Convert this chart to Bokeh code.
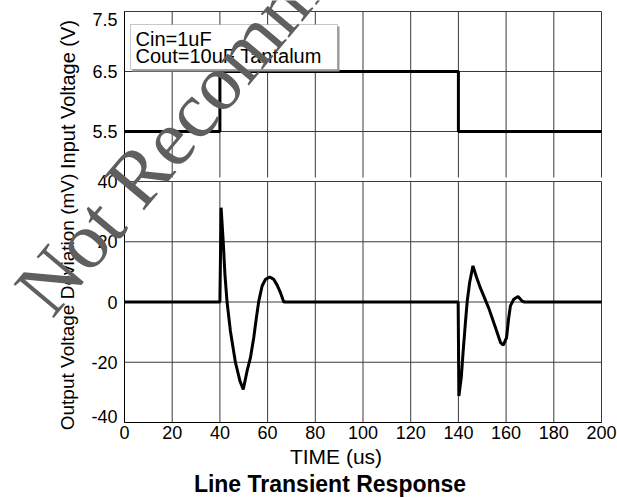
from bokeh.plotting import figure
from bokeh.models import Range1d, FixedTicker, LinearAxis, Label, BoxAnnotation
from bokeh.embed import file_html
from bokeh.resources import INLINE

# ---------------- data ----------------
x_ticks = [0, 20, 40, 60, 80, 100, 120, 140, 160, 180, 200]
x_tick_labels = ["0", "20", "40", "60", "80", "100", "120", "140", "160", "180", "200"]
vin_ticks = [5.5, 6.5, 7.5]
vin_tick_labels = ["5.5", "6.5", "7.5"]
vout_ticks = [-40, -20, 0, 20, 40]
vout_tick_labels = ["-40", "-20", "0", "20", "40"]

# input voltage step (V)
vin_t = [0, 40, 40, 140, 140, 200]
vin_v = [5.5, 5.5, 6.5, 6.5, 5.5, 5.5]

# output voltage deviation (mV)
vout_t = [0, 40, 40.5, 41.4, 42.1, 43.0, 44.4, 46.5, 48.4, 49.8, 51.4, 52.8, 54.2, 55.3,
          56.3, 57.7, 59.1, 60.9, 62.6, 64.0, 65.4, 66.8,
          139.9, 140.2, 141.2, 142.0, 143.0, 143.7, 144.7, 146.1, 147.6, 149.3, 152.8,
          155.6, 157.7, 158.8, 160.2, 161.1, 161.8, 163.2, 165.0, 166.7, 167.7, 200]
vout_v = [0, 0, 31.3, 20.0, 9.2, 0.0, -9.6, -20.0, -26.2, -29.0, -22.9, -18.5, -11.8, -5.2,
          0.3, 5.3, 7.5, 8.3, 7.5, 5.6, 3.1, 0.0,
          0.0, -31.2, -25.1, -16.3, -6.3, 0.3, 6.4, 12.0, 8.2, 4.5, -2.2,
          -8.6, -13.5, -14.3, -11.8, -5.2, -1.3, 0.9, 1.8, 0.3, 0.0, 0.0]

note_lines = ["Cin=1uF", "Cout=10uF Tantalum"]
x_title = "TIME (us)"
chart_title = "Line Transient Response"
watermark = "Not Recommended"

# ---------------- geometry (page pixels) ----------------
PAGE_W, PAGE_H = 617, 498
FRAME_L, FRAME_R = 124, 601
TOP_T, TOP_B = 11, 177          # input-voltage panel
BOT_T, BOT_B = 181, 422         # output-deviation panel

px_per_t = (FRAME_R - FRAME_L) / 200.0
px_per_v = 60.0
px_per_mv = (BOT_B - BOT_T) / 80.0

FONT = "Liberation Sans"
GRID = "#3a3a3a"


def t_of(px):
    return (px - FRAME_L) / px_per_t


def vin_of(py):
    return 7.5 - (py - TOP_T) / px_per_v


def mv_of(py):
    return 40 - (py - BOT_T) / px_per_mv


vin_lo = vin_of(TOP_B)

p = figure(width=PAGE_W, height=PAGE_H, output_backend="svg", toolbar_location=None,
           tools="", x_range=Range1d(t_of(0), t_of(PAGE_W)),
           y_range=Range1d(mv_of(PAGE_H), mv_of(0)),
           min_border=0, min_border_left=0, min_border_right=0,
           min_border_top=0, min_border_bottom=0)
p.extra_y_ranges = {"vin": Range1d(vin_of(PAGE_H), vin_of(0))}
p.outline_line_color = None
p.background_fill_color = "white"
p.border_fill_color = "white"
p.xgrid.visible = False
p.ygrid.visible = False

nx = len(x_ticks)
# ---- grid + frame lines (drawn from the tick arrays) ----
p.segment(x0=x_ticks, y0=[vin_lo] * nx, x1=x_ticks, y1=[vin_ticks[-1]] * nx,
          y_range_name="vin", line_color=GRID, line_width=1)
p.segment(x0=[x_ticks[0]] * len(vin_ticks), y0=vin_ticks,
          x1=[x_ticks[-1]] * len(vin_ticks), y1=vin_ticks,
          y_range_name="vin", line_color=GRID, line_width=1)
p.segment(x0=x_ticks, y0=[vout_ticks[0]] * nx, x1=x_ticks, y1=[vout_ticks[-1]] * nx,
          line_color=GRID, line_width=1)
p.segment(x0=[x_ticks[0]] * len(vout_ticks), y0=vout_ticks,
          x1=[x_ticks[-1]] * len(vout_ticks), y1=vout_ticks,
          line_color=GRID, line_width=1)

# ---- data ----
p.line(vin_t, vin_v, y_range_name="vin", line_color="black", line_width=3)
p.line(vout_t, vout_v, line_color="black", line_width=3)

# ---- axes ----
xax = p.xaxis[0]
xax.fixed_location = vout_ticks[0]
xax.bounds = (x_ticks[0], x_ticks[-1])
xax.ticker = FixedTicker(ticks=x_ticks)
xax.major_label_overrides = {t: s for t, s in zip(x_ticks, x_tick_labels)}

yb = p.yaxis[0]
yb.fixed_location = x_ticks[0]
yb.bounds = (vout_ticks[0], vout_ticks[-1])
vout_pos = list(vout_ticks)
vout_pos[0] = vout_ticks[0] + 6.0 / px_per_mv
yb.ticker = FixedTicker(ticks=vout_pos)
yb.major_label_overrides = {t: s for t, s in zip(vout_pos, vout_tick_labels)}
yb.axis_label = "Output Voltage Deviation (mV)"

ya = LinearAxis(y_range_name="vin", fixed_location=x_ticks[0], bounds=(vin_lo, vin_ticks[-1]))
vin_pos = list(vin_ticks)
vin_pos[-1] = vin_ticks[-1] - 8.3 / px_per_v
ya.ticker = FixedTicker(ticks=vin_pos)
ya.major_label_overrides = {t: s for t, s in zip(vin_pos, vin_tick_labels)}
ya.axis_label = "Input Voltage (V)"
p.add_layout(ya, "left")

for ax in (ya, yb, xax):
    ax.axis_line_color = "black"
    ax.axis_line_width = 1
    ax.major_tick_line_color = None
    ax.minor_tick_line_color = None
    ax.major_tick_out = 0
    ax.major_tick_in = 0
    ax.minor_tick_out = 0
    ax.minor_tick_in = 0
    ax.major_label_text_font = FONT
    ax.major_label_text_font_size = "18px"
    ax.major_label_text_color = "black"
    ax.axis_label_text_font = FONT
    ax.axis_label_text_font_size = "19px"
    ax.axis_label_text_font_style = "normal"
    ax.axis_label_text_color = "black"
ya.axis_label_text_font_size = "20px"
ya.major_label_standoff = 7
yb.major_label_standoff = 7
xax.major_label_standoff = 3
ya.axis_label_standoff = 10
yb.axis_label_standoff = 10

# ---- note box (with a light shadow) ----
p.add_layout(BoxAnnotation(left=t_of(132), right=t_of(339), top=mv_of(26), bottom=mv_of(71),
                           fill_color="#9a9a9a", fill_alpha=1.0, line_color=None))
p.add_layout(BoxAnnotation(left=t_of(130), right=t_of(337), top=mv_of(24), bottom=mv_of(69),
                           fill_color="white", fill_alpha=1.0,
                           line_color="#444444", line_width=1))
for i, txt in enumerate(note_lines):
    p.add_layout(Label(x=t_of(135), y=mv_of(38.5 + 17 * i), text=txt,
                       text_font=FONT, text_font_size="20px", text_color="black",
                       text_baseline="middle", text_align="left"))

# ---- texts below ----
p.add_layout(Label(x=t_of(335.5), y=mv_of(456), text=x_title,
                   text_font=FONT, text_font_size="21px", text_color="black",
                   text_align="center", text_baseline="middle"))
p.add_layout(Label(x=t_of(329.5), y=mv_of(483), text=chart_title,
                   text_font=FONT, text_font_size="23px", text_font_style="bold",
                   text_color="black", text_align="center", text_baseline="middle"))

# ---- watermark ----
WM_X, WM_Y, WM_ANGLE = 31, 302, 50
p.add_layout(Label(x=t_of(WM_X), y=mv_of(WM_Y), text=watermark,
                   text_font="Liberation Serif", text_font_size="80px",
                   text_color="#5f5f5f", angle=WM_ANGLE, angle_units="deg",
                   text_align="left", text_baseline="alphabetic", level="overlay"))

open("out.html", "w").write(file_html(p, INLINE))
